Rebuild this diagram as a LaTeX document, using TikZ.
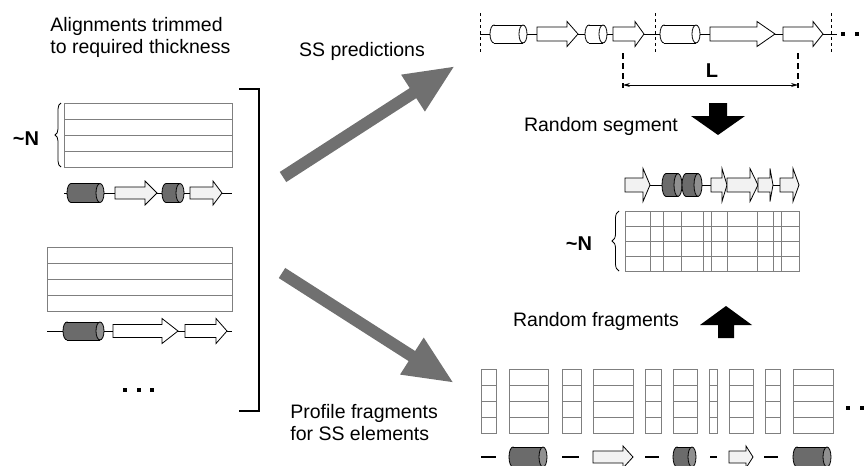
\documentclass[tikz,border=0pt]{standalone}
\usepackage{xcolor}
\usepackage{fontspec}
\setmainfont{Liberation Sans}
\usetikzlibrary{arrows.meta,decorations.pathreplacing}

\definecolor{helixgray}{HTML}{6B6B6B}
\definecolor{strandgray}{HTML}{F2F2F2}
\definecolor{gridgray}{HTML}{7F7F7F}
\definecolor{arrowgray}{HTML}{707070}

% cylinder: x1, x2, y, half height, fill
\newcommand{\helix}[5]{%
  \filldraw[fill=#5] (#1+4,#3) ellipse[x radius=4, y radius=#4];
  \fill[#5] (#1+4,#3-#4) rectangle (#2-4,#3+#4);
  \draw (#1+4,#3-#4) -- (#2-4,#3-#4) (#1+4,#3+#4) -- (#2-4,#3+#4);
  \filldraw[fill=#5!75!white] (#2-4,#3) ellipse[x radius=4, y radius=#4];
}
% block arrow: x1, head start, tip, y, body half, head half, fill
\newcommand{\strand}[7]{%
  \filldraw[fill=#7] (#1,#4-#5) -- (#2,#4-#5) -- (#2,#4-#6) -- (#3,#4)
    -- (#2,#4+#6) -- (#2,#4+#5) -- (#1,#4+#5) -- cycle;
}

\tikzset{
  captext/.style={font=\fontsize{19.5}{22}\selectfont, inner sep=0pt},
  boldtext/.style={font=\fontsize{20}{22}\selectfont\bfseries, inner sep=0pt},
  gridline/.style={draw=gridgray, line width=1},
  bigarrow/.style={draw=arrowgray, line width=12, -{Triangle[length=50, width=40]}},
  cutline/.style={dashed, dash pattern=on 3 off 3, line width=0.8},
  lenline/.style={dash pattern=on 6 off 4, line width=1.3},
}

\begin{document}
\begin{tikzpicture}[x=1pt, y=-1pt, line width=0.8]
  \useasboundingbox (0,0) rectangle (868,466);

  % ---- left: trimmed alignments ----
  \node[captext, anchor=north west, align=left] (aligntitle) at (50,17)
    {Alignments trimmed\\to required thickness};

  % first alignment block
  \draw[gridline] (64,103) rectangle (232,167);
  \foreach \r in {1,2,3} {
    \draw[gridline] (64,103+16*\r) -- (232,103+16*\r);
  }
  \draw[decorate, decoration={brace, amplitude=6}] (61,167) -- (61,103);
  \node[boldtext, anchor=base] (leftN) at (26,145) {\textasciitilde N};

  \draw (64,193) -- (232,193);
  \helix{67}{104}{193}{9.5}{helixgray}
  \strand{115}{145}{157}{193}{6}{12}{strandgray}
  \helix{162}{184}{193}{9.5}{helixgray}
  \strand{190}{213}{222}{193}{6}{12}{strandgray}

  % second alignment block
  \draw[gridline] (47,247) rectangle (232,311);
  \foreach \r in {1,2,3} {
    \draw[gridline] (47,247+16*\r) -- (232,247+16*\r);
  }
  \draw (47,331) -- (232,331);
  \helix{63}{104}{331}{9}{helixgray}
  \strand{113}{162}{178}{331}{6.5}{12.5}{white}
  \strand{185}{216}{227}{331}{6.5}{12.5}{white}

  \foreach \x in {125,139,152} {
    \fill (\x-2,388) rectangle (\x+2,392);
  }

  % bracket
  \draw[line width=2] (239,89) -| (259,411) -- (239,411);

  % ---- big arrows ----
  \coordinate (sstail) at (283,177);
  \coordinate (sshead) at (455,66);
  \coordinate (proftail) at (282,273);
  \coordinate (profhead) at (454,383);
  \draw[bigarrow] (sstail) -- (sshead);
  \draw[bigarrow] (proftail) -- (profhead);

  \node[captext, anchor=base] (sspred) at (362,56) {SS predictions};
  \node[captext, anchor=north west, align=left] (profile) at (290,404)
    {Profile fragments\\for SS elements};

  % ---- top right: predicted SS string ----
  \foreach \x in {480,655,831} {
    \draw[cutline] (\x,13) -- (\x,52);
  }
  \draw (480,34) -- (837,34);
  \helix{490}{527}{34}{9}{white}
  \strand{537}{567}{578}{34}{7}{12.5}{white}
  \helix{585}{607}{34}{9}{white}
  \strand{613}{635}{644}{34}{7}{12.5}{white}
  \helix{660}{700}{34}{9}{white}
  \strand{710}{757}{775}{34}{7}{12.5}{white}
  \strand{783}{813}{823}{34}{7}{12.5}{white}
  \foreach \x in {843,857,871} {
    \fill (\x-2,32) rectangle (\x+2,36);
  }

  % segment length
  \draw[lenline] (623,53) -- (623,88);
  \draw[lenline] (798,53) -- (798,88);
  \coordinate (lstart) at (623,85);
  \coordinate (lend) at (798,85);
  \draw[{Stealth[length=7, width=4]}-{Stealth[length=7, width=4]}] (lstart) -- (lend);
  \node[boldtext, anchor=base] (lenlabel) at (712,77) {L};

  % random segment arrow
  \fill (709,103) -- (727,103) -- (727,116) -- (745,116) -- (718,135)
    -- (691,116) -- (709,116) -- cycle;
  \node[captext, anchor=base] (randseg) at (601,131) {Random segment};

  % ---- middle right: chosen segment ----
  \draw (625,185) -- (799,185);
  \strand{625}{643}{650}{185}{7}{16.5}{strandgray}
  \helix{662}{682}{185}{11.5}{helixgray}
  \helix{682}{702}{185}{11.5}{helixgray}
  \strand{711}{722}{727}{185}{7}{16.5}{strandgray}
  \strand{727}{750}{758}{185}{7}{16.5}{strandgray}
  \strand{758}{770}{773}{185}{7}{16.5}{strandgray}
  \strand{780}{793}{799}{185}{7}{16.5}{strandgray}

  \draw[gridline] (625,211) rectangle (799,271);
  \foreach \r in {1,2,3} {
    \draw[gridline] (625,211+15*\r) -- (799,211+15*\r);
  }
  \foreach \c in {650,663,681,703,711,727,757,773,781} {
    \draw[gridline] (\c,211) -- (\c,271);
  }
  \draw[decorate, decoration={brace, amplitude=7}] (619,271) -- (619,211);
  \node[boldtext, anchor=base] (midN) at (579,250) {\textasciitilde N};

  % random fragments arrow
  \fill (718,338) -- (734,338) -- (734,325) -- (752,325) -- (726,306)
    -- (700,325) -- (718,325) -- cycle;
  \node[captext, anchor=base] (randfrag) at (596,326) {Random fragments};

  % ---- bottom right: profile fragments ----
  \foreach \a/\b in {481/496,509/548,562/581,593/633,645/661,673/697,709/717,729/753,765/780,793/833} {
    \draw[gridline] (\a,369) rectangle (\b,433);
    \foreach \r in {1,2,3} {
      \draw[gridline] (\a,369+16*\r) -- (\b,369+16*\r);
    }
  }
  \foreach \x in {848,862} {
    \fill (\x-2,406) rectangle (\x+2,410);
  }

  \foreach \a/\b in {481/496,562/579,645/659,710/717,764/778} {
    \draw[line width=1.3] (\a,457) -- (\b,457);
  }
  \helix{509}{547}{457}{10}{helixgray}
  \strand{593}{623}{633}{457}{6}{11}{strandgray}
  \helix{673}{696}{457}{10}{helixgray}
  \strand{729}{746}{753}{457}{6}{11}{strandgray}
  \helix{793}{831}{457}{10}{helixgray}

\end{tikzpicture}
\end{document}
